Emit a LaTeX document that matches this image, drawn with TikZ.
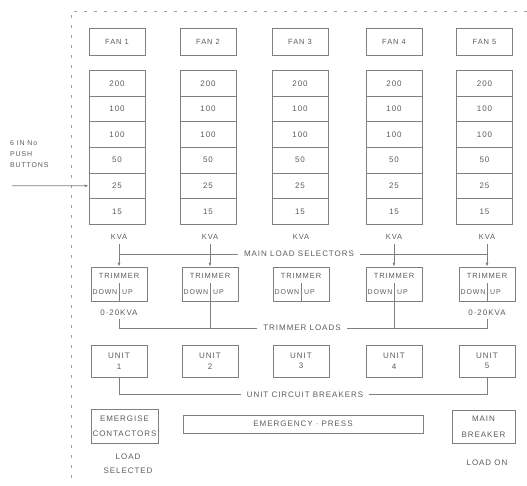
\documentclass[tikz,border=0pt]{standalone}
\usepackage{fontspec}
\setmainfont{Liberation Sans}[LetterSpace=12]
\usetikzlibrary{arrows.meta}
\definecolor{linec}{gray}{0.5}
\definecolor{txtc}{gray}{0.36}
\definecolor{framec}{gray}{0.62}
\begin{document}
\begin{tikzpicture}[x=1pt,y=-1pt,
  box/.style={draw=linec, line width=0.7pt, minimum width=56pt, minimum height=27pt, inner sep=0pt, text=txtc, font=\fontsize{8}{10.5}\selectfont, align=center},
  cellbox/.style={box, minimum height=25.6pt},
  lbl/.style={text=txtc, font=\fontsize{8}{10.5}\selectfont, inner sep=0pt, align=center},
  small/.style={font=\fontsize{7.5}{9}\selectfont},
  busl/.style={lbl, inner xsep=6pt, inner ysep=2pt},
  wire/.style={draw=linec, line width=0.7pt},
  tip/.style={-{Latex[length=4pt,width=3pt]}},
  frame/.style={draw=framec, line width=0.8pt, dash pattern=on 3pt off 7pt}]
\useasboundingbox (0,0) rectangle (527,485);
% dashed panel outline
\coordinate (fTR) at (527,11);
\coordinate (fTL) at (71,11);
\coordinate (fBL) at (71,485);
\draw[frame] (fTR) -- (fTL) -- (fBL);
% columns
\foreach \col/\sx/\tx in {1/117/119, 2/208/210, 3/300/301, 4/394/394, 5/484.5/487} {
  \node[box, small] (fan\col) at (\sx,41.5) {FAN \col};
  \foreach \v [count=\r] in {200,100,100,50,25,15} {
    \node[cellbox] (s\col-\r) at (\sx,{57.8+25.6*\r}) {\v};
  }
  \node[lbl, small] (kva\col) at (\tx,237) {KVA};
  \node[box, minimum height=34pt] (tr\col) at (\tx,284) {};
  \node[lbl, small] (trt\col) at (\tx,275.5) {TRIMMER};
  \node[lbl, anchor=east, font=\fontsize{7}{9}\selectfont] (dn\col) at (\tx-1.5,292) {DOWN};
  \node[lbl, anchor=west, font=\fontsize{7}{9}\selectfont] (up\col) at (\tx+3,292) {UP};
  \draw[wire] (tr\col.south) -- ++(0,-18);
  \node[box, minimum height=32pt] (u\col) at (\tx,361) {UNIT\\\col};
}
% range labels
\node[lbl] (z1) at (119,313) {0·20KVA};
\node[lbl] (z5) at (487,313) {0·20KVA};
% bus labels
\node[busl] (mls) at (299,254) {MAIN LOAD SELECTORS};
\node[busl] (tl) at (302,328) {TRIMMER LOADS};
\node[busl] (ucb) at (305,394.5) {UNIT CIRCUIT BREAKERS};
% main load selectors
\foreach \col in {1,2,4,5} {
  \draw[wire, tip, shorten <=4pt] (kva\col.south) -- (tr\col.north);
}
\draw[wire] (tr1.north |- mls.west) -- (mls.west);
\draw[wire] (mls.east) -- (mls.east -| tr5.north);
% trimmer loads
\draw[wire, shorten <=3pt] (z1.south -| tr1.south) -- (tr1.south |- tl.west) -- (tl.west);
\draw[wire] (tr2.south) -- (tr2.south |- tl.west);
\draw[wire] (tr4.south) -- (tr4.south |- tl.east);
\draw[wire, shorten <=3pt] (z5.south -| tr5.south) -- (tr5.south |- tl.east) -- (tl.east);
% unit circuit breakers
\draw[wire] (u1.south) -- (u1.south |- ucb.west) -- (ucb.west);
\draw[wire] (ucb.east) -- (ucb.east -| u5.south) -- (u5.south);
% bottom row
\node[box, minimum width=67pt, minimum height=34pt, font=\fontsize{8}{15}\selectfont] (ec) at (124.5,426) {EMERGISE\\CONTACTORS};
\node[box, minimum width=240pt, minimum height=18pt] (ep) at (303,424) {EMERGENCY · PRESS};
\node[box, minimum width=63pt, minimum height=33pt, font=\fontsize{8}{16}\selectfont] (mb) at (483.5,426.5) {MAIN\\BREAKER};
\node[lbl, font=\fontsize{8}{14}\selectfont] (ls) at (128,464) {LOAD\\SELECTED};
\node[lbl] (lo) at (487,463) {LOAD ON};
% push buttons
\node[lbl, anchor=north west, align=left, font=\fontsize{7}{11}\selectfont] (pb) at (10,140) {6 IN No\\PUSH\\BUTTONS};
\coordinate (pbs) at (12,185.8);
\draw[wire, tip] (pbs) -- (s1-5.west);
\end{tikzpicture}
\end{document}
